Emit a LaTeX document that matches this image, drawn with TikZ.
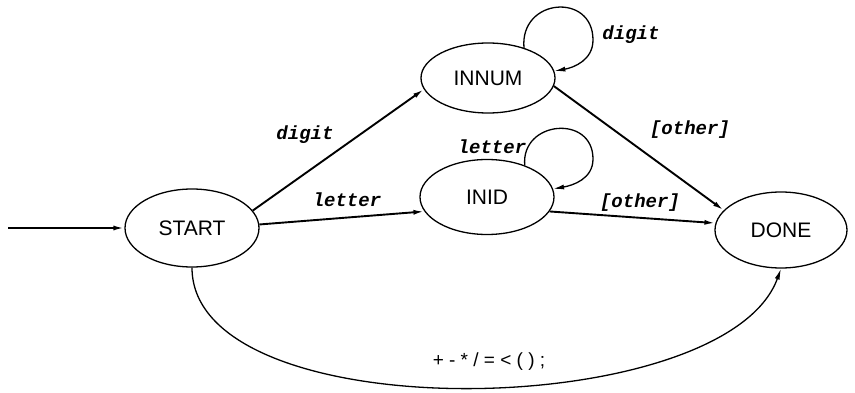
\documentclass[tikz,border=0pt]{standalone}
\usepackage{fontspec}
\setmainfont{Liberation Sans}
\newfontfamily\lblfont{Liberation Mono}
\usetikzlibrary{shapes.geometric,arrows.meta}
\begin{document}
\begin{tikzpicture}[x=1pt,y=1pt,
  state/.style={draw, ellipse, line width=1.3pt, inner sep=0pt,
    minimum width=134pt, minimum height=74pt, font=\fontsize{21}{24}\selectfont},
  trans/.style={line width=1.9pt, -{Latex[length=11pt,width=5pt]}},
  thintrans/.style={line width=1.3pt, -{Latex[length=11pt,width=5pt]}},
  lbl/.style={font=\lblfont\bfseries\itshape\fontsize{19}{21}\selectfont, inner sep=0pt}
]
\useasboundingbox (0,0) rectangle (855,392);

\node[state, minimum height=78pt] (start) at (192,164) {START};
\node[state, minimum height=70pt] (innum) at (488,314) {INNUM};
\node[state, minimum height=75pt] (inid) at (487,195) {INID};
\node[state, minimum width=132pt, minimum height=76pt] (done) at (781,162) {DONE};
\coordinate (entry) at (8,164);
\coordinate (numloop) at (593,352);
\coordinate (idloop) at (593,233);

\draw[trans] (entry) -- (start.west);
\draw[trans] (start.16) -- (innum.190);
\draw[trans] (start.3) -- (inid.193);
\draw[trans] (innum.-7) -- (done.161);
\draw[trans] (inid.-13) -- (done.174);

\draw[thintrans] (innum.40) .. controls +(95:50) and +(90:48) .. (numloop)
  .. controls +(-90:20) and +(10:20) .. (innum.6);
\draw[thintrans] (inid.40) .. controls +(95:45) and +(90:45) .. (idloop)
  .. controls +(-90:20) and +(10:20) .. (inid.7);

\draw[thintrans] (start.south) .. controls +(0,-164) and +(-56,-154) .. (done.south);

\node[lbl] (ldigit) at (305,257) {digit};
\node[lbl] (lletter) at (347,192) {letter};
\node[lbl] (lother1) at (690,262) {[other]};
\node[lbl] (lother2) at (640,189) {[other]};
\node[lbl] (ldigitloop) at (631,357) {digit};
\node[lbl] (lletterloop) at (492,245) {letter};
\node[font=\fontsize{19}{22}\selectfont, inner sep=0pt] (lsym) at (489,30) {+ - * / = < ( ) ;};
\end{tikzpicture}
\end{document}
